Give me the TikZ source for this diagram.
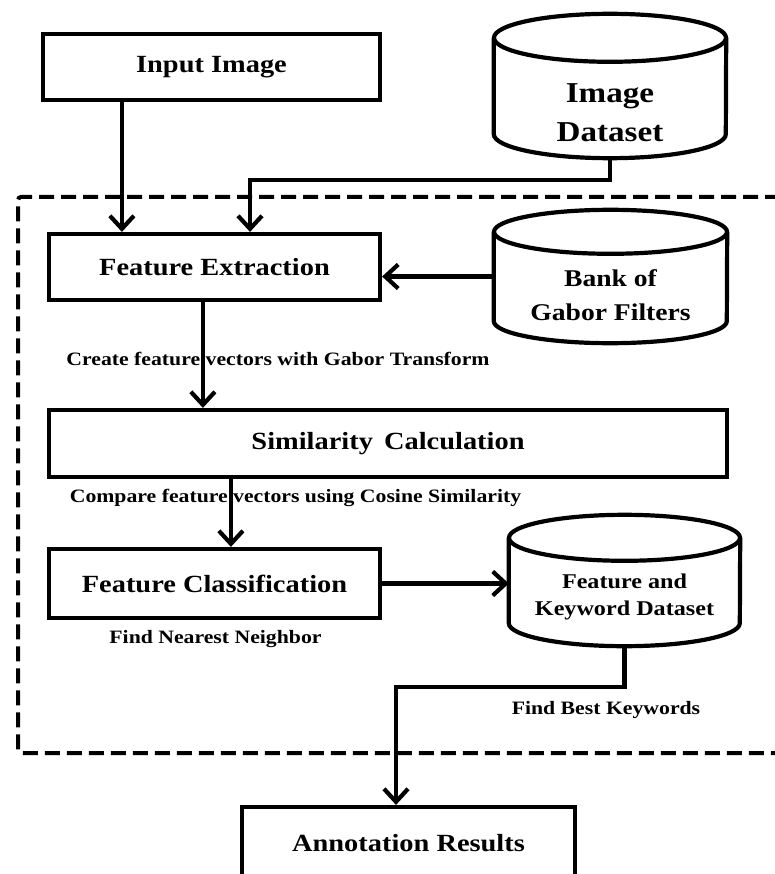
\documentclass[tikz,border=0pt]{standalone}
\usepackage{fontspec}
\setmainfont{Liberation Serif}[FakeStretch=1.15]
\usetikzlibrary{arrows.meta}
\tikzset{
  line/.style={line width=4.2pt, draw=black},
  box/.style={line, rectangle, inner sep=0pt, font=\bfseries\fontsize{24.7}{29}\selectfont},
  cylnode/.style={rectangle, draw=none, inner sep=0pt},
  cyltext/.style={align=center, inner sep=0pt},
  lbl/.style={inner sep=0pt, font=\bfseries\fontsize{18.9}{22}\selectfont},
  arr/.style={line, -{Straight Barb[length=13pt,width=24pt]}},
  frame/.style={line width=4pt, dash pattern=on 15pt off 7pt, rounded corners=3pt},
}
\newcommand{\cylout}[3]{%
  \draw[line] ([yshift=-#3]#1.north west) -- ([yshift=#3]#1.south west)
    arc[start angle=180, end angle=360, x radius=#2, y radius=#3]
    -- ([yshift=-#3]#1.north east);
  \draw[line] ([yshift=-#3]#1.north) ellipse[x radius=#2, y radius=#3];
}
\begin{document}
\begin{tikzpicture}[x=1pt, y=-1pt]
\useasboundingbox (0,0) rectangle (775,874);

% dashed frame
\draw[frame] (780,197) -- (18,197) -- (18,753) -- (780,753);

% boxes
\node[box, minimum width=337pt, minimum height=66pt] (inp) at (211.5,67) {Input Image};
\node[box, minimum width=331pt, minimum height=66pt] (fe) at (214.5,267) {Feature Extraction};
\node[box, minimum width=678pt, minimum height=67pt] (sim) at (388,443.5) {Similarity\hspace{0.45em}Calculation};
\node[box, minimum width=331pt, minimum height=69pt] (fc) at (214.5,583.5) {Feature Classification};
\node[box, minimum width=333pt, minimum height=72pt] (ann) at (408.5,843) {Annotation Results};

% cylinders
\node[cylnode, minimum width=232pt, minimum height=144pt] (imgds) at (610,86) {};
\cylout{imgds}{116pt}{24pt}
\node[cyltext, font=\bfseries\fontsize{28.8}{39}\selectfont] (imgdsT) at (610,112.5) {Image\\Dataset};

\node[cylnode, minimum width=233pt, minimum height=133pt] (bank) at (610.5,276.5) {};
\cylout{bank}{116.5pt}{22pt}
\node[cyltext, font=\bfseries\fontsize{24}{34}\selectfont] (bankT) at (610.5,295) {Bank of\\Gabor Filters};

\node[cylnode, minimum width=231pt, minimum height=131pt] (fkd) at (624.5,580.5) {};
\cylout{fkd}{115.5pt}{23pt}
\node[cyltext, font=\bfseries\fontsize{21}{27}\selectfont] (fkdT) at (624.5,596.5) {Feature and\\Keyword Dataset};

% labels
\node[lbl] (l1) at (278,359) {Create feature vectors with Gabor Transform};
\node[lbl] (l2) at (295.5,498) {Compare feature vectors using Cosine Similarity};
\node[lbl] (l3) at (215.5,639) {Find Nearest Neighbor};
\node[lbl] (l4) at (606,710) {Find Best Keywords};

% connectors
\coordinate (j1) at (250,180);
\coordinate (j2) at (396,687);
\draw[arr] ([xshift=81pt]inp.south west) -- ([xshift=81pt]inp.south west |- fe.north);
\draw[arr] (imgds.south) |- (j1) -- (j1 |- fe.north);
\draw[arr] (bank.west) -- (bank.west -| fe.east);
\draw[arr] ([xshift=156pt]fe.south west) -- ([xshift=156pt]fe.south west |- sim.north);
\draw[arr] ([xshift=184pt]sim.south west) -- ([xshift=184pt]sim.south west |- fc.north);
\draw[arr] (fc.east) -- (fc.east -| fkd.west);
\draw[arr] (fkd.south) |- (j2) -- (j2 |- ann.north);
\end{tikzpicture}
\end{document}
